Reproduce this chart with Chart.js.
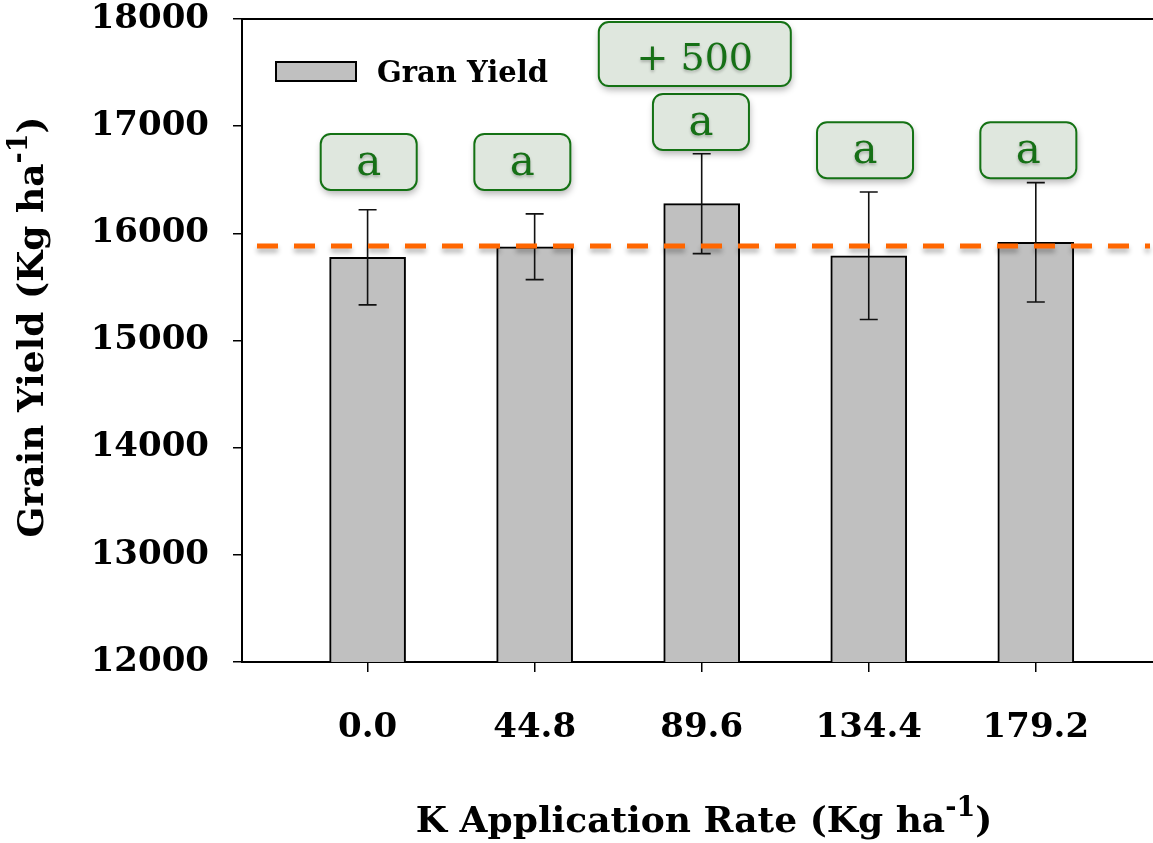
<!DOCTYPE html>
<html>
<head>
<meta charset="utf-8">
<script src="https://cdn.jsdelivr.net/npm/chart.js@4"></script>
<style>
  html, body { margin: 0; padding: 0; background: #fff; }
  #chart { display: block; }
</style>
</head>
<body>
<canvas id="chart" width="1153" height="843"></canvas>
<script>
const rates = [0.0, 44.8, 89.6, 134.4, 179.2];
const yields = [15776, 15875, 16277, 15791, 15916];
const errors = [444, 307, 466, 595, 557];
const groupLetters = ['a', 'a', 'a', 'a', 'a'];
const referenceYield = 15882;
const gainText = '+ 500';

const SERIF = "'DejaVu Serif', serif";

// label boxes: x/y in data units, size in px
const labelBoxes = [
  { text: groupLetters[0], x: 0.3, y: 16666, w: 96, h: 56, size: 42 },
  { text: groupLetters[1], x: 41.5, y: 16666, w: 96, h: 56, size: 42 },
  { text: groupLetters[2], x: 89.4, y: 17039, w: 96, h: 56, size: 42 },
  { text: groupLetters[3], x: 133.4, y: 16776, w: 96, h: 56, size: 42 },
  { text: groupLetters[4], x: 177.2, y: 16776, w: 96, h: 56, size: 42 },
  { text: gainText, x: 87.75, y: 17673, w: 192, h: 64, size: 38 }
];

function roundRect(ctx, x, y, w, h, r) {
  ctx.beginPath();
  ctx.moveTo(x + r, y);
  ctx.arcTo(x + w, y, x + w, y + h, r);
  ctx.arcTo(x + w, y + h, x, y + h, r);
  ctx.arcTo(x, y + h, x, y, r);
  ctx.arcTo(x, y, x + w, y, r);
  ctx.closePath();
}

// text with a raised "-1" part
function drawSupText(ctx, parts, cx, baseline) {
  let total = 0;
  parts.forEach(p => {
    ctx.font = `bold ${p.size}px ${SERIF}`;
    p.w = ctx.measureText(p.text).width;
    total += p.w;
  });
  let x = cx - total / 2;
  ctx.textAlign = 'left';
  ctx.textBaseline = 'alphabetic';
  parts.forEach(p => {
    ctx.font = `bold ${p.size}px ${SERIF}`;
    ctx.fillText(p.text, x, baseline - (p.rise || 0));
    x += p.w;
  });
}

const extras = {
  id: 'extras',
  afterDatasetsDraw(chart) {
    const { ctx, chartArea: area, scales: { x, y } } = chart;
    ctx.save();

    // top frame line
    ctx.strokeStyle = '#000';
    ctx.lineWidth = 2;
    ctx.beginPath();
    ctx.moveTo(area.left, area.top);
    ctx.lineTo(area.right, area.top);
    ctx.stroke();

    // error bars
    ctx.lineWidth = 1.6;
    ctx.strokeStyle = '#111';
    rates.forEach((r, i) => {
      const px = x.getPixelForValue(r);
      const top = y.getPixelForValue(yields[i] + errors[i]);
      const bot = y.getPixelForValue(yields[i] - errors[i]);
      ctx.beginPath();
      ctx.moveTo(px, top); ctx.lineTo(px, bot);
      ctx.moveTo(px - 9, top); ctx.lineTo(px + 9, top);
      ctx.moveTo(px - 9, bot); ctx.lineTo(px + 9, bot);
      ctx.stroke();
    });

    // dashed reference line
    const ry = y.getPixelForValue(referenceYield);
    ctx.save();
    ctx.shadowColor = 'rgba(0,0,0,0.3)';
    ctx.shadowBlur = 5;
    ctx.shadowOffsetY = 4;
    ctx.strokeStyle = '#ff6600';
    ctx.lineWidth = 5;
    ctx.setLineDash([21, 16]);
    ctx.beginPath();
    ctx.moveTo(area.left + 15, ry);
    ctx.lineTo(area.right - 3, ry);
    ctx.stroke();
    ctx.restore();

    // letter boxes
    labelBoxes.forEach(b => {
      const cx = x.getPixelForValue(b.x);
      const cy = y.getPixelForValue(b.y);
      const bx = cx - b.w / 2, by = cy - b.h / 2;
      ctx.save();
      ctx.shadowColor = 'rgba(0,0,0,0.3)';
      ctx.shadowBlur = 7;
      ctx.shadowOffsetY = 4;
      ctx.shadowOffsetX = 1;
      roundRect(ctx, bx, by, b.w, b.h, 10);
      ctx.fillStyle = '#dfe7de';
      ctx.fill();
      ctx.restore();
      roundRect(ctx, bx, by, b.w, b.h, 10);
      ctx.lineWidth = 2;
      ctx.strokeStyle = '#147214';
      ctx.stroke();
      ctx.save();
      ctx.shadowColor = 'rgba(0,0,0,0.25)';
      ctx.shadowBlur = 3;
      ctx.shadowOffsetY = 2;
      ctx.fillStyle = '#167016';
      ctx.font = `${b.size}px ${SERIF}`;
      ctx.textAlign = 'center';
      ctx.textBaseline = 'alphabetic';
      const drop = b.text === gainText ? 16 : 13;
      ctx.fillText(b.text, cx, cy + drop);
      ctx.restore();
    });

    // legend
    ctx.fillStyle = '#c0c0c0';
    ctx.fillRect(276, 62, 80, 19);
    ctx.lineWidth = 2;
    ctx.strokeStyle = '#000';
    ctx.strokeRect(276, 62, 80, 19);
    ctx.fillStyle = '#000';
    ctx.font = `bold 29px ${SERIF}`;
    ctx.textAlign = 'left';
    ctx.textBaseline = 'alphabetic';
    ctx.fillText('Gran Yield', 377, 82);

    // axis titles
    ctx.fillStyle = '#000';
    drawSupText(ctx, [
      { text: 'K Application Rate (Kg ha', size: 36 },
      { text: '-1', size: 27, rise: 16 },
      { text: ')', size: 36 }
    ], 704, 832);

    ctx.save();
    ctx.translate(43, 327);
    ctx.rotate(-Math.PI / 2);
    drawSupText(ctx, [
      { text: 'Grain Yield (Kg ha', size: 36 },
      { text: '-1', size: 27, rise: 16 },
      { text: ')', size: 36 }
    ], 0, 0);
    ctx.restore();

    ctx.restore();
  }
};

new Chart(document.getElementById('chart'), {
  type: 'bar',
  data: {
    datasets: [{
      label: 'Gran Yield',
      data: rates.map((r, i) => ({ x: r, y: yields[i] })),
      backgroundColor: '#c0c0c0',
      borderColor: '#000',
      borderWidth: 2,
      barThickness: 76
    }]
  },
  options: {
    responsive: false,
    animation: false,
    devicePixelRatio: 1,
    layout: { padding: { top: 19, right: 0, bottom: 0, left: 0 } },
    plugins: { legend: { display: false }, tooltip: { enabled: false } },
    scales: {
      x: {
        type: 'linear',
        offset: false,
        min: -33.68,
        max: 210.63,
        afterBuildTicks: s => { s.ticks = rates.map(v => ({ value: v })); },
        afterFit: s => { s.height = 181; s.paddingLeft = 0; s.paddingRight = 0; },
        ticks: {
          callback: v => Number(v).toFixed(1),
          color: '#000',
          font: { family: SERIF, size: 34, weight: 'bold' },
          padding: 36,
          maxRotation: 0,
          autoSkip: false
        },
        grid: { offset: false, drawOnChartArea: false, drawTicks: true, tickLength: 10, color: '#000', lineWidth: 1.5 },
        border: { display: true, color: '#000', width: 2 }
      },
      y: {
        min: 12000,
        max: 18000,
        afterFit: s => { s.width = 242; s.paddingTop = 0; s.paddingBottom = 0; },
        ticks: {
          stepSize: 1000,
          callback: v => String(v),
          color: '#000',
          font: { family: SERIF, size: 34, weight: 'bold', lineHeight: 1.1 },
          padding: 24
        },
        grid: { drawOnChartArea: false, drawTicks: true, tickLength: 9, color: '#000', lineWidth: 1.5 },
        border: { display: true, color: '#000', width: 2 }
      }
    }
  },
  plugins: [extras]
});
</script>
</body>
</html>
